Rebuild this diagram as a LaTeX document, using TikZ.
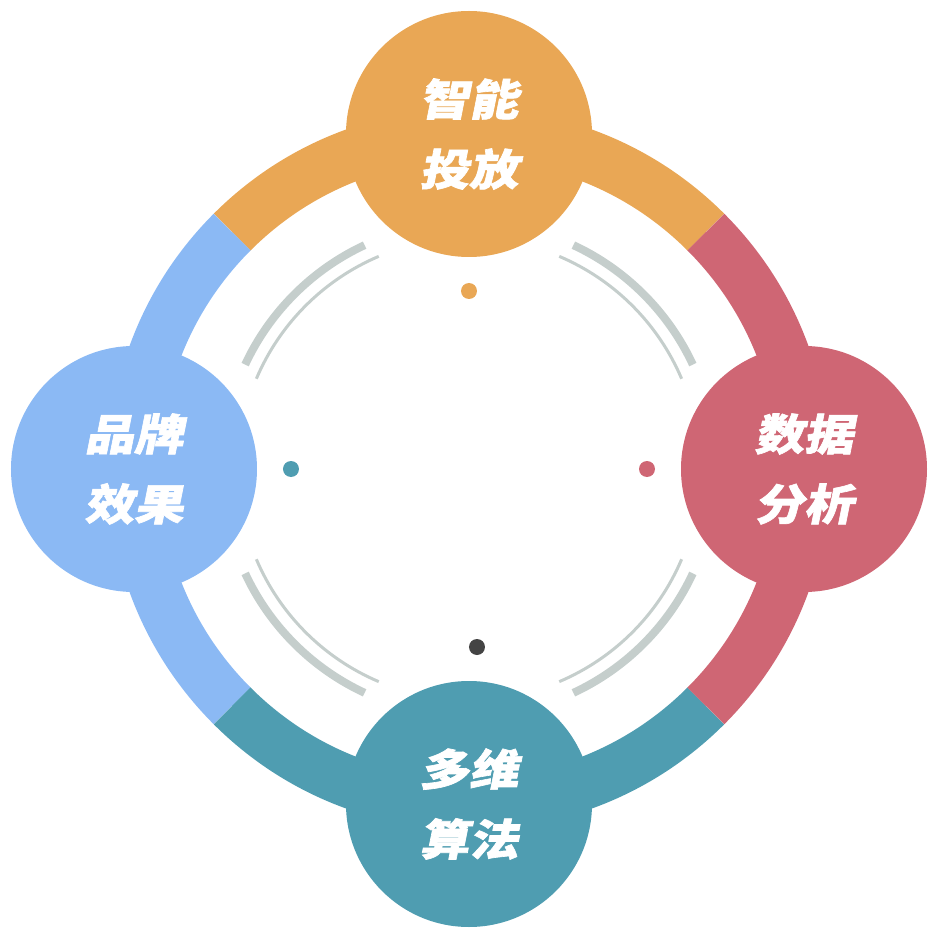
\documentclass[tikz,border=0pt]{standalone}
\usepackage{fontspec}
\usepackage{xcolor}
\newfontfamily\cjk[FakeSlant=0.2,FakeStretch=1.15,FakeBold=1.5]{Noto Sans CJK SC}
\definecolor{myorange}{HTML}{E9A755}
\definecolor{myred}{HTML}{CF6674}
\definecolor{myblue}{HTML}{8BB9F4}
\definecolor{myteal}{HTML}{4F9DB1}
\definecolor{mygray}{HTML}{C5CECC}
\definecolor{mydark}{HTML}{444444}
\tikzstyle{band}=[line width=52pt]
\tikzstyle{hub}=[circle,minimum size=246pt,inner sep=0pt,text=white,align=center,font=\cjk\bfseries\fontsize{43}{70}\selectfont]
\tikzstyle{arcthick}=[line width=8pt,mygray]
\tikzstyle{arcthin}=[line width=3pt,mygray]
\tikzstyle{spot}=[circle,minimum size=16pt,inner sep=0pt]

\begin{document}
\begin{tikzpicture}[x=1pt,y=1pt]

  \useasboundingbox (-469,-471) rectangle (470,469);

  % ring variables
  \def\R{335}
  \def\Ra{247}
  \def\Rb{231}
  \def\d{178}

  % ring bands
  \draw[band,myorange]
    (45:\R) arc (45:135:\R);
  \draw[band,myblue]
    (135:\R) arc (135:225:\R);
  \draw[band,myteal]
    (225:\R) arc (225:315:\R);
  \draw[band,myred]
    (-45:\R) arc (-45:45:\R);

  % inner arcs
  \draw[arcthick] (25:\Ra) arc (25:65:\Ra);
  \draw[arcthick] (115:\Ra) arc (115:155:\Ra);
  \draw[arcthick] (205:\Ra) arc (205:245:\Ra);
  \draw[arcthick] (295:\Ra) arc (295:335:\Ra);
  \draw[arcthin] (23:\Rb) arc (23:67:\Rb);
  \draw[arcthin] (113:\Rb) arc (113:157:\Rb);
  \draw[arcthin] (203:\Rb) arc (203:247:\Rb);
  \draw[arcthin] (293:\Rb) arc (293:337:\Rb);

  % dots
  \node[spot,fill=myorange] (dotplace) at (90:\d) {};
  \node[spot,fill=myred] (dotdata) at (0:\d) {};
  \node[spot,fill=myteal] (dotbrand) at (180:\d) {};
  \node[spot,fill=mydark] (dotalgo) at (8,-\d) {};

  % hubs
  \node[hub,fill=myorange] (place) at (90:\R) {智能\\投放};
  \node[hub,fill=myred] (data) at (0:\R) {数据\\分析};
  \node[hub,fill=myteal] (algo) at (270:\R) {多维\\算法};
  \node[hub,fill=myblue] (brand) at (180:\R) {品牌\\效果};

\end{tikzpicture}
\end{document}
